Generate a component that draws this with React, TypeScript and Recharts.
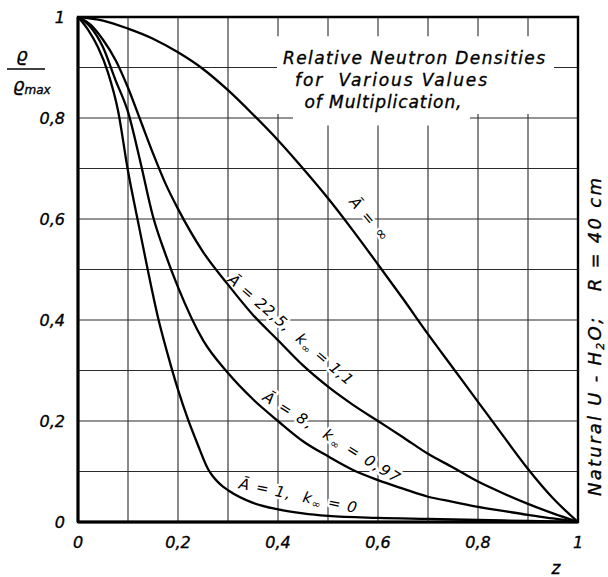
import React from 'react';
import {
  LineChart,
  Line,
  XAxis,
  YAxis,
  CartesianGrid,
  ReferenceArea,
  ReferenceDot,
  Customized,
} from 'recharts';

// ---- data (z = relative radius, v = rho / rho_max) ----
const zInf = [0, 0.05, 0.1, 0.15, 0.2, 0.25, 0.3, 0.35, 0.4, 0.45, 0.5, 0.55, 0.6, 0.65, 0.7, 0.75, 0.8, 0.85, 0.9, 0.95, 1];
const vInf = [1, 0.993, 0.977, 0.957, 0.93, 0.897, 0.855, 0.807, 0.756, 0.7, 0.641, 0.577, 0.51, 0.442, 0.372, 0.305, 0.238, 0.171, 0.105, 0.047, 0];

const z225 = [0, 0.025, 0.05, 0.075, 0.1, 0.125, 0.15, 0.175, 0.2, 0.25, 0.3, 0.35, 0.4, 0.45, 0.5, 0.55, 0.6, 0.65, 0.7, 0.75, 0.8, 0.85, 0.9, 0.95, 1];
const v225 = [1, 0.985, 0.955, 0.915, 0.86, 0.795, 0.73, 0.67, 0.62, 0.535, 0.47, 0.41, 0.36, 0.31, 0.268, 0.232, 0.2, 0.168, 0.135, 0.108, 0.08, 0.057, 0.036, 0.017, 0];

const z8 = [0, 0.025, 0.05, 0.075, 0.1, 0.125, 0.15, 0.175, 0.2, 0.25, 0.3, 0.35, 0.4, 0.45, 0.5, 0.55, 0.6, 0.65, 0.7, 0.75, 0.8, 0.85, 0.9, 0.95, 1];
const v8 = [1, 0.98, 0.94, 0.875, 0.812, 0.712, 0.605, 0.53, 0.465, 0.36, 0.295, 0.243, 0.2, 0.16, 0.13, 0.103, 0.083, 0.066, 0.05, 0.04, 0.03, 0.022, 0.014, 0.007, 0];

const z1 = [0, 0.02, 0.04, 0.06, 0.08, 0.1, 0.12, 0.14, 0.16, 0.18, 0.2, 0.22, 0.24, 0.26, 0.27, 0.28, 0.29, 0.3, 0.35, 0.4, 0.45, 0.5, 0.6, 0.7, 0.8, 0.9, 1];
const v1 = [1, 0.975, 0.94, 0.89, 0.815, 0.695, 0.595, 0.497, 0.405, 0.33, 0.262, 0.203, 0.152, 0.105, 0.09, 0.079, 0.07, 0.063, 0.038, 0.025, 0.017, 0.012, 0.008, 0.006, 0.004, 0.002, 0];

const gridTicks = [0, 0.1, 0.2, 0.3, 0.4, 0.5, 0.6, 0.7, 0.8, 0.9, 1];

const titleLines = ['Relative Neutron Densities', 'for  Various Values', 'of Multiplication,'];

const toRows = (zs: number[], vs: number[]) => zs.map((z, i) => ({ z, v: vs[i] }));

const dataInf = toRows(zInf, vInf);
const data225 = toRows(z225, v225);
const data8 = toRows(z8, v8);
const data1 = toRows(z1, v1);

const FONT = 'DejaVu Sans';

const fmt = (v: number) => {
  const k = Math.round(v * 10);
  if (k % 2) return '';
  if (k === 0) return '0';
  if (k === 10) return '1';
  return '0,' + k;
};

const halo = {
  stroke: '#fff',
  strokeWidth: 5,
  paintOrder: 'stroke' as const,
  strokeLinejoin: 'round' as const,
};

const textBase = {
  fontFamily: FONT,
  fontStyle: 'italic' as const,
  fill: '#000',
  whiteSpace: 'pre' as const,
};

const inked = { ...textBase, stroke: '#000', strokeWidth: 0.35 };

const curveLabel = (
  head: string,
  tail: string | null,
  angle: number,
  len: number,
  size: number
) =>
  (p: any) => {
    const { cx, cy } = p;
    return (
      <text
        x={cx}
        y={cy}
        transform={`rotate(${angle} ${cx} ${cy})`}
        textAnchor="middle"
        dominantBaseline="central"
        fontSize={size}
        textLength={len}
        lengthAdjust="spacing"
        style={{ ...textBase, ...halo }}
      >
        {head}
        {tail !== null && (
          <>
            <tspan>k</tspan>
            <tspan fontSize={size * 0.72} dy={4}>∞</tspan>
            <tspan dy={-4}>{tail}</tspan>
          </>
        )}
      </text>
    );
  };

const titleShape = (p: any) => {
  const { cx, cy } = p;
  return (
    <g>
      {titleLines.map((t, i) => (
        <text
          key={i}
          x={cx + [0, -23, -31][i]}
          y={cy + i * 22}
          textAnchor="middle"
          fontSize={17}
          textLength={[262, 192, 157][i]}
          lengthAdjust="spacing"
          style={inked}
        >
          {t}
        </text>
      ))}
    </g>
  );
};

const Outside = () => (
  <g>
    {/* y-axis label rho / rho_max */}
    <text x={22} y={61} textAnchor="middle" fontSize={18} style={inked}>ϱ</text>
    <line x1={7} y1={69} x2={45} y2={69} stroke="#000" strokeWidth={1.6} />
    <text x={13} y={91} fontSize={18} style={inked}>
      ϱ<tspan fontSize={12} dy={3}>max</tspan>
    </text>
    {/* x-axis label */}
    <text x={556} y={574} textAnchor="middle" fontSize={17} style={inked}>z</text>
    {/* right-side rotated note */}
    <text
      x={0}
      y={0}
      transform="translate(601 337) rotate(-90)"
      textAnchor="middle"
      fontSize={18}
      textLength={318}
      lengthAdjust="spacing"
      style={inked}
    >
      Natural U - H<tspan fontSize={11} dy={3}>2</tspan><tspan dy={-3}>O;   R = 40 cm</tspan>
    </text>
  </g>
);

const tickStyle = { fill: '#000', stroke: '#000', strokeWidth: 0.35, fontSize: 16, fontStyle: 'italic', fontFamily: FONT };

export default function App() {
  return (
    <div style={{ position: 'absolute', left: 0, top: 0, width: 608, height: 577, background: '#fff' }}>
      <LineChart width={608} height={577} margin={{ top: 17, right: 30, bottom: 25, left: 18 }}>
        <CartesianGrid stroke="#2a2a2a" strokeWidth={1.1} />
        <XAxis
          dataKey="z"
          type="number"
          domain={[0, 1]}
          ticks={gridTicks}
          interval={0}
          tickFormatter={fmt}
          height={30}
          axisLine={{ stroke: '#000', strokeWidth: 3 }}
          tickLine={false}
          tickSize={6}
          tickMargin={9}
          tick={tickStyle}
          allowDataOverflow
        />
        <YAxis
          dataKey="v"
          type="number"
          domain={[0, 1]}
          ticks={gridTicks}
          interval={0}
          tickFormatter={fmt}
          width={60}
          axisLine={{ stroke: '#000', strokeWidth: 3 }}
          tickLine={false}
          tickSize={6}
          tickMargin={7}
          tick={tickStyle}
          allowDataOverflow
        />
        {/* white mask behind title */}
        <ReferenceArea x1={0.398} x2={0.952} y1={0.808} y2={0.962} fill="#fff" fillOpacity={1} stroke="none" />
        <ReferenceArea x1={0.43} x2={0.784} y1={0.785} y2={0.81} fill="#fff" fillOpacity={1} stroke="none" />
        {/* frame */}
        <ReferenceArea x1={0} x2={1} y1={0} y2={1} fill="none" fillOpacity={0} stroke="#000" strokeWidth={2.4} ifOverflow="visible" />

        <ReferenceDot x={0.672} y={0.906} r={0} ifOverflow="visible" shape={titleShape} />
        <ReferenceDot x={0.582} y={0.6} r={0} ifOverflow="visible" zIndex={350} shape={curveLabel('Ā = ∞', null, 50, 52, 15)} />
        <ReferenceDot x={0.425} y={0.381} r={0} ifOverflow="visible" zIndex={350} shape={curveLabel('Ā = 22,5,  ', ' = 1,1', 41, 160, 15)} />
        <ReferenceDot x={0.507} y={0.168} r={0} ifOverflow="visible" zIndex={350} shape={curveLabel('Ā = 8,  ', ' = 0,97', 32, 158, 15)} />
        <ReferenceDot x={0.44} y={0.052} r={0} ifOverflow="visible" zIndex={350} shape={curveLabel('Ā = 1,  ', ' = 0', 12, 120, 15)} />

        <Line data={dataInf} dataKey="v" type="monotone" stroke="#000" strokeWidth={2.3} dot={false} isAnimationActive={false} />
        <Line data={data225} dataKey="v" type="monotone" stroke="#000" strokeWidth={2.3} dot={false} isAnimationActive={false} />
        <Line data={data8} dataKey="v" type="monotone" stroke="#000" strokeWidth={2.3} dot={false} isAnimationActive={false} />
        <Line data={data1} dataKey="v" type="monotone" stroke="#000" strokeWidth={2.3} dot={false} isAnimationActive={false} />
        <Customized component={<Outside />} />
      </LineChart>
    </div>
  );
}
